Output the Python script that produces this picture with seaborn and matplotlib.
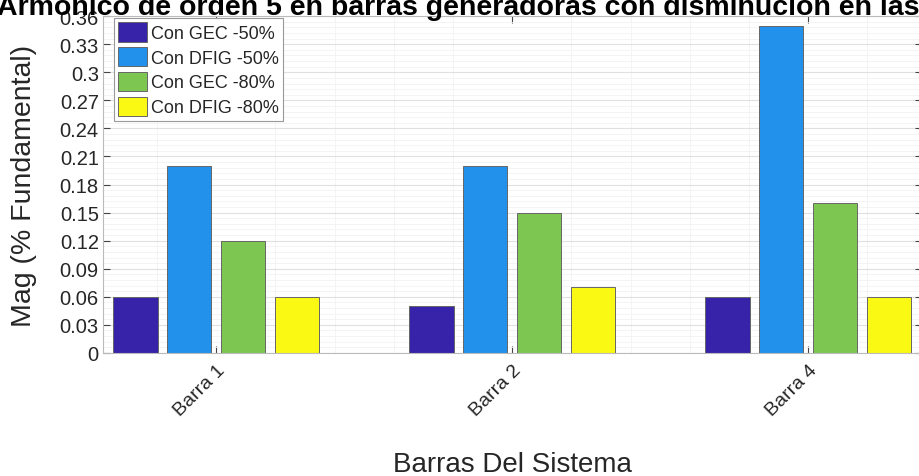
import numpy as np
import pandas as pd
import matplotlib as mpl
mpl.use("Agg")
import matplotlib.pyplot as plt
from matplotlib.ticker import MultipleLocator
import seaborn as sns

sns.set_style("white")
plt.rcParams['font.family'] = ['Liberation Sans', 'DejaVu Sans']

barras = ["Barra 1", "Barra 2", "Barra 4"]
series = ["Con GEC -50%", "Con DFIG -50%", "Con GEC -80%", "Con DFIG -80%"]
gec_50 = [0.06, 0.05, 0.06]
dfig_50 = [0.20, 0.20, 0.35]
gec_80 = [0.12, 0.15, 0.16]
dfig_80 = [0.06, 0.07, 0.06]
colores = ["#3723AA", "#2191EB", "#7DC652", "#F9F914"]

df = pd.DataFrame({
    "barra": barras * 4,
    "serie": np.repeat(series, 3),
    "mag": gec_50 + dfig_50 + gec_80 + dfig_80,
})

fig = plt.figure(figsize=(9.19, 4.77), dpi=100)
ax = fig.add_axes([0.112, 0.258, 0.8915, 0.706])

# grid (major + minor, estilo MATLAB)
ax.set_axisbelow(True)
ax.yaxis.set_major_locator(MultipleLocator(0.03))
ax.yaxis.set_minor_locator(MultipleLocator(0.006))
ax.xaxis.set_minor_locator(MultipleLocator(0.2))
ax.grid(which="major", axis="y", color="#e0e0e0", lw=0.8)
ax.grid(which="minor", color="#f2f2f2", lw=0.6)

sns.barplot(data=df, x="barra", y="mag", hue="serie", palette=colores,
            width=0.728, gap=0.18, edgecolor="#666666", linewidth=0.7,
            saturation=1, ax=ax)

ax.set_ylim(0, 0.36)
ax.set_xlim(-0.383, 2.385)
ax.set_yticks(np.arange(0, 0.361, 0.03))
ax.set_yticklabels(["0", "0.03", "0.06", "0.09", "0.12", "0.15", "0.18",
                    "0.21", "0.24", "0.27", "0.3", "0.33", "0.36"])
ax.tick_params(axis="y", labelsize=14.5, direction="in", length=5,
               color="#444444", pad=3, right=True, left=True)
ax.tick_params(axis="x", labelsize=14, direction="in", length=5,
               color="#444444", top=True, bottom=True, pad=6)
ax.tick_params(which="minor", length=0)
plt.setp(ax.get_xticklabels(), rotation=45, ha="right", rotation_mode="anchor")
for lbl in ax.get_yticklabels() + ax.get_xticklabels():
    lbl.set_color("#262626")

for s in ax.spines.values():
    s.set_color("#bbbbbb")
    s.set_linewidth(0.8)
ax.spines["right"].set_visible(False)

ax.set_ylabel("Mag (% Fundamental)", fontsize=20.5, color="#262626", labelpad=16)
ax.set_xlabel("Barras Del Sistema", fontsize=20, color="#262626", labelpad=23)

leg = ax.legend(loc="upper left", bbox_to_anchor=(0.011, 1.0), fontsize=13,
                frameon=True, fancybox=False, edgecolor="#999999", framealpha=1,
                handlelength=1.6, handleheight=1.25, handletextpad=0.2,
                labelspacing=0.28, borderpad=0.25, borderaxespad=0.1, title=None)
leg.get_frame().set_linewidth(0.8)

fig.text(-0.003, 0.968, "Armónico de orden 5 en barras generadoras con disminución en las",
         fontsize=20.5, fontweight="bold", ha="left", va="baseline", color="black")

fig.savefig("out.png", dpi=100)
